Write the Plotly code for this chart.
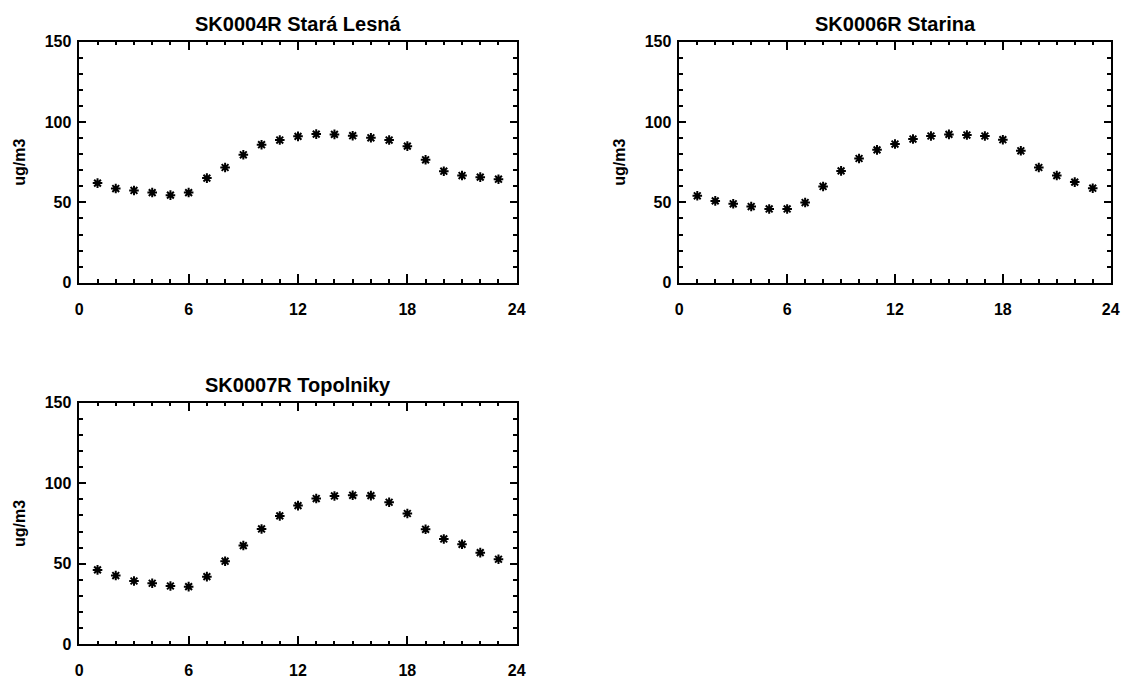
import plotly.graph_objects as go

hours = list(range(1, 24))

titles = ["SK0004R Stará Lesná", "SK0006R Starina", "SK0007R Topolniky"]

stara_lesna = [62.0, 58.6, 57.4, 56.1, 54.5, 56.1, 65.1, 71.7, 79.6, 85.9, 88.8, 91.1,
               92.5, 92.3, 91.5, 90.2, 88.8, 85.0, 76.5, 69.4, 66.7, 65.7, 64.4]
starina = [54.1, 50.9, 49.1, 47.4, 45.9, 45.9, 49.9, 59.9, 69.6, 77.3, 82.7, 86.3,
           89.4, 91.3, 92.3, 91.9, 91.3, 89.0, 82.1, 71.7, 66.7, 62.6, 58.8]
topolniky = [46.2, 42.7, 39.3, 37.9, 36.2, 35.8, 42.0, 51.6, 61.3, 71.6, 79.7, 86.1,
             90.5, 92.1, 92.5, 92.3, 88.2, 81.2, 71.4, 65.4, 62.1, 56.9, 52.8]

x_ticks = [0, 6, 12, 18, 24]
y_ticks = [0, 50, 100, 150]
y_title = "ug/m3"

OFF = 8  # page body margin
W, H = 1132 - OFF, 682 - OFF
# panel boxes in page pixels: (left, right, top, bottom)
boxes = [(79.3, 516.7, 41.7, 282.7),
         (679.3, 1110.7, 41.7, 282.7),
         (79.3, 516.7, 402.7, 644.3)]
series = [stara_lesna, starina, topolniky]

FONT = "Liberation Sans, Arial, sans-serif"

fig = go.Figure()
layout = dict(
    width=W, height=H,
    margin=dict(l=0, r=0, t=0, b=0, autoexpand=False),
    paper_bgcolor="white", plot_bgcolor="white",
    showlegend=False,
    font=dict(family=FONT, color="black", size=16, weight="bold"),
    annotations=[],
)

for i, (vals, box, title) in enumerate(zip(series, boxes, titles)):
    l, r, t, b = [v - OFF for v in box]
    n = "" if i == 0 else str(i + 1)
    fig.add_trace(go.Scatter(
        x=hours, y=vals, mode="markers",
        xaxis="x" + n, yaxis="y" + n,
        marker=dict(symbol="asterisk-open", size=8, color="black",
                    line=dict(color="black", width=2)),
        hoverinfo="x+y",
    ))
    axis_common = dict(
        showgrid=False, zeroline=False, showline=True, linecolor="black",
        linewidth=1.5, mirror="ticks", ticks="inside", tickcolor="black",
        tickwidth=1.5, automargin=False,
        tickfont=dict(family=FONT, size=16, color="black", weight="bold"),
    )
    layout["xaxis" + n] = dict(
        axis_common,
        domain=[l / W, r / W], anchor="y" + n,
        range=[0, 24], tickvals=x_ticks, ticklen=9,
        ticklabelstandoff=11,
        minor=dict(dtick=1, tick0=0, ticks="inside", ticklen=4,
                   tickcolor="black", tickwidth=1.5),
    )
    layout["yaxis" + n] = dict(
        axis_common,
        domain=[1 - b / H, 1 - t / H], anchor="x" + n,
        range=[0, 150], tickvals=y_ticks, ticklen=7,
        ticklabelstandoff=3,
        minor=dict(dtick=10, tick0=0, ticks="inside", ticklen=4,
                   tickcolor="black", tickwidth=1.5),
        title=dict(text=y_title, standoff=15,
                   font=dict(family=FONT, size=16, color="black", weight="bold")),
    )
    layout["annotations"].append(dict(
        text=title, xref="paper", yref="paper",
        x=(l + r) / 2 / W, y=1 - (t - 5) / H,
        xanchor="center", yanchor="bottom", showarrow=False,
        font=dict(family=FONT, size=20, color="black", weight="bold"),
    ))

fig.update_layout(**layout)
fig.write_html("out.html")
